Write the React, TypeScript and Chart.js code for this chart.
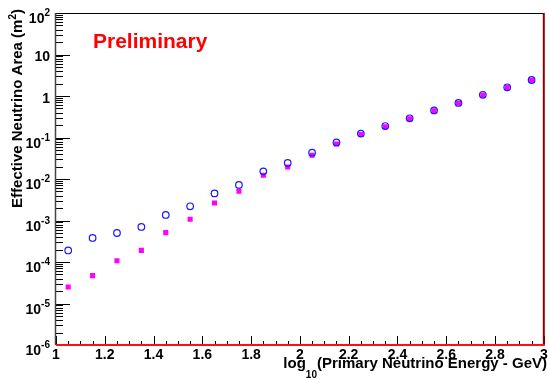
import React, { useEffect, useRef } from "react";
import { Chart, registerables } from "chart.js";

Chart.register(...registerables);

// log10(E/GeV) bin centres
const energies = [1.05, 1.15, 1.25, 1.35, 1.45, 1.55, 1.65, 1.75, 1.85, 1.95, 2.05, 2.15, 2.25, 2.35, 2.45, 2.55, 2.65, 2.75, 2.85, 2.95];
// open blue circles
const circleArea = [1.9e-4, 3.8e-4, 5.0e-4, 7.0e-4, 1.36e-3, 2.2e-3, 4.5e-3, 7.2e-3, 1.53e-2, 2.43e-2, 4.3e-2, 7.6e-2, 0.124, 0.189, 0.29, 0.45, 0.68, 1.07, 1.62, 2.43];
// filled magenta squares
const squareArea = [2.5e-5, 4.7e-5, 1.07e-4, 1.91e-4, 5.1e-4, 1.07e-3, 2.64e-3, 5.05e-3, 1.23e-2, 1.95e-2, 3.72e-2, 6.97e-2, 0.118, 0.182, 0.283, 0.44, 0.67, 1.05, 1.6, 2.4];

const xTickValues = [1, 1.2, 1.4, 1.6, 1.8, 2, 2.2, 2.4, 2.6, 2.8, 3];
const xTickLabels = ["1", "1.2", "1.4", "1.6", "1.8", "2", "2.2", "2.4", "2.6", "2.8", "3"];
const yTickValues = [1e-6, 1e-5, 1e-4, 1e-3, 1e-2, 1e-1, 1, 10, 100];
const yTickBases = ["10", "10", "10", "10", "10", "10", "1", "10", "10"];
const yTickSups = ["-6", "-5", "-4", "-3", "-2", "-1", "", "", "2"];

const FONT = '"Liberation Sans", Arial, Helvetica, sans-serif';

const rootPlugin = {
  id: "rootStyle",
  beforeDatasetsDraw(chart: any) {
    const ctx = chart.ctx as CanvasRenderingContext2D;
    const { left, right, top, bottom } = chart.chartArea;
    const xs = chart.scales.x;
    const ys = chart.scales.y;
    ctx.save();
    ctx.fillStyle = "#ffffff";
    ctx.fillRect(left, top, right - left, bottom - top);
    // Y ticks (inward)
    ctx.strokeStyle = "#000";
    ctx.lineWidth = 1;
    for (let e = -6; e <= 2; e++) {
      const v = Math.pow(10, e);
      const py = Math.round(ys.getPixelForValue(v)) + 0.5;
      ctx.beginPath();
      ctx.moveTo(left, py);
      ctx.lineTo(left + 14, py);
      ctx.stroke();
      if (e < 2) {
        for (let m = 2; m <= 9; m++) {
          const pm = Math.round(ys.getPixelForValue(m * v)) + 0.5;
          ctx.beginPath();
          ctx.moveTo(left, pm);
          ctx.lineTo(left + 7, pm);
          ctx.stroke();
        }
      }
    }
    // X ticks (inward)
    for (let i = 0; i <= 40; i++) {
      const v = 1 + i * 0.05;
      const px = Math.round(xs.getPixelForValue(v)) + 0.5;
      const len = i % 4 === 0 ? 9 : 4;
      ctx.beginPath();
      ctx.moveTo(px, bottom);
      ctx.lineTo(px, bottom - len);
      ctx.stroke();
    }
    // frame
    ctx.strokeStyle = "#000";
    ctx.lineWidth = 1;
    ctx.beginPath();
    ctx.moveTo(left, top + 0.5);
    ctx.lineTo(right, top + 0.5);
    ctx.stroke();
    ctx.strokeStyle = "#444";
    ctx.lineWidth = 1.5;
    ctx.beginPath();
    ctx.moveTo(left - 0.5, top);
    ctx.lineTo(left - 0.5, bottom);
    ctx.stroke();
    ctx.strokeStyle = "#8b0000";
    ctx.lineWidth = 2;
    ctx.beginPath();
    ctx.moveTo(right, top);
    ctx.lineTo(right, bottom);
    ctx.stroke();
    ctx.strokeStyle = "#ff1010";
    ctx.lineWidth = 2;
    ctx.beginPath();
    ctx.moveTo(left, bottom);
    ctx.lineTo(right + 1, bottom);
    ctx.stroke();
    ctx.restore();
  },
  afterDraw(chart: any) {
    const ctx = chart.ctx as CanvasRenderingContext2D;
    const xs = chart.scales.x;
    const ys = chart.scales.y;
    const { left } = chart.chartArea;
    ctx.save();
    ctx.fillStyle = "#000";
    // X tick labels
    ctx.font = `bold 14px ${FONT}`;
    ctx.textAlign = "center";
    ctx.textBaseline = "alphabetic";
    xTickValues.forEach((v, i) => {
      ctx.fillText(xTickLabels[i], xs.getPixelForValue(v), 358.5);
    });
    // Y tick labels
    const labelRight = left - 6;
    ctx.textAlign = "left";
    yTickValues.forEach((v, i) => {
      const py = ys.getPixelForValue(v);
      const base = yTickBases[i];
      const sup = yTickSups[i];
      ctx.font = `bold 14px ${FONT}`;
      const wb = ctx.measureText(base).width;
      if (sup) {
        ctx.font = `bold 10px ${FONT}`;
        const ws = ctx.measureText(sup).width;
        ctx.font = `bold 14px ${FONT}`;
        ctx.fillText(base, labelRight - ws - wb, py + 10);
        ctx.font = `bold 10px ${FONT}`;
        ctx.fillText(sup, labelRight - ws, py + 3);
      } else {
        ctx.fillText(base, labelRight - wb, py + 6.5);
      }
    });
    // X title with subscript, right aligned
    const tMain1 = "log";
    const tSub = "10";
    const tMain2 = "(Primary Neutrino Energy - GeV)";
    ctx.font = `bold 15px ${FONT}`;
    const w1 = ctx.measureText(tMain1).width;
    const w2 = ctx.measureText(tMain2).width;
    ctx.font = `bold 10px ${FONT}`;
    const wsub = ctx.measureText(tSub).width;
    const xEnd = 547;
    let x0 = xEnd - (w1 + wsub + w2);
    ctx.font = `bold 15px ${FONT}`;
    ctx.fillText(tMain1, x0, 368);
    ctx.font = `bold 10px ${FONT}`;
    ctx.fillText(tSub, x0 + w1, 378);
    ctx.font = `bold 15px ${FONT}`;
    ctx.fillText(tMain2, x0 + w1 + wsub, 368);
    // Y title rotated with superscript, right aligned at top
    const yMain = "Effective Neutrino Area (m";
    const ySup = "2";
    const yEndStr = ")";
    ctx.font = `bold 15px ${FONT}`;
    const wy1 = ctx.measureText(yMain).width;
    const wy3 = ctx.measureText(yEndStr).width;
    ctx.font = `bold 10px ${FONT}`;
    const wy2 = ctx.measureText(ySup).width;
    const total = wy1 + wy2 + wy3;
    ctx.save();
    ctx.translate(22, 9);
    ctx.rotate(-Math.PI / 2);
    ctx.font = `bold 15px ${FONT}`;
    ctx.fillText(yMain, -total, 0);
    ctx.font = `bold 10px ${FONT}`;
    ctx.fillText(ySup, -total + wy1, -6);
    ctx.font = `bold 15px ${FONT}`;
    ctx.fillText(yEndStr, -total + wy1 + wy2, 0);
    ctx.restore();
    // Preliminary
    ctx.fillStyle = "#ff0000";
    ctx.font = `bold 21px ${FONT}`;
    ctx.fillText("Preliminary", 93, 48);
    ctx.restore();
  },
};

export default function App() {
  const ref = useRef<HTMLCanvasElement | null>(null);
  useEffect(() => {
    document.body.style.margin = "0";
    document.body.style.background = "#ffffff";
    const canvas = ref.current;
    if (!canvas) return;
    const chart = new Chart(canvas, {
      type: "scatter",
      data: {
        datasets: [
          {
            label: "circles",
            data: energies.map((x, i) => ({ x, y: circleArea[i] })),
            pointStyle: "circle",
            pointRadius: 3.3,
            pointBorderWidth: 1.2,
            pointBorderColor: "#1a1aff",
            pointBackgroundColor: "rgba(0,0,0,0)",
            showLine: false,
            order: 0,
          },
          {
            label: "squares",
            data: energies.map((x, i) => ({ x, y: squareArea[i] })),
            pointStyle: "rect",
            pointRadius: 3.6,
            pointBorderWidth: 0,
            pointBackgroundColor: "#ff00ff",
            pointBorderColor: "#ff00ff",
            showLine: false,
            order: 1,
          },
        ],
      },
      options: {
        animation: false,
        responsive: false,
        maintainAspectRatio: false,
        devicePixelRatio: 1,
        layout: { padding: { left: 56, right: 3, top: 13, bottom: 35 } },
        plugins: { legend: { display: false }, tooltip: { enabled: false } },
        scales: {
          x: { type: "linear", min: 1, max: 3, display: false },
          y: { type: "logarithmic", min: 1e-6, max: 100, display: false },
        },
      },
      plugins: [rootPlugin],
    });
    return () => chart.destroy();
  }, []);
  return (
    <div style={{ width: 549, height: 380, background: "#fff" }}>
      <canvas ref={ref} width={549} height={380} style={{ display: "block", width: 549, height: 380 }} />
    </div>
  );
}
